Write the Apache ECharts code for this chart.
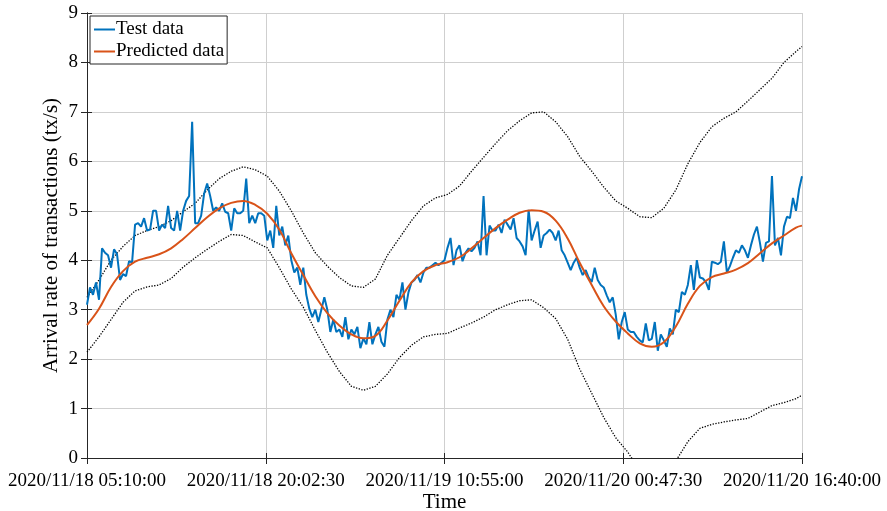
<!DOCTYPE html>
<html>
<head>
<meta charset="utf-8">
<script src="https://cdn.jsdelivr.net/npm/echarts@6/dist/echarts.min.js"></script>
<style>
  html, body { margin: 0; padding: 0; background: #fff; }
  #chart { width: 887px; height: 511px; }
</style>
</head>
<body>
<div id="chart"></div>
<script>
// Time axis: hours elapsed since 2020/11/18 05:10:00, ticks every 14 h 52 min 30 s
const xTickLabels = [
  '2020/11/18 05:10:00',
  '2020/11/18 20:02:30',
  '2020/11/19 10:55:00',
  '2020/11/20 00:47:30',
  '2020/11/20 16:40:00'
];
const spanHours = 59.5;
const tickStepHours = 14.875;
const testStepHours = 0.25; // observations every 15 minutes

// Observed arrival rate (tx/s)
const testData = [
  3.1, 3.45, 3.3, 3.55, 3.2, 4.24, 4.15, 4.1, 3.85, 4.22,
  4.12, 3.6, 3.72, 3.68, 3.98, 3.95, 4.72, 4.75, 4.68, 4.85,
  4.6, 4.62, 5.0, 5.0, 4.6, 4.72, 4.65, 5.1, 4.65, 4.6,
  5.0, 4.6, 5.0, 5.2, 5.3, 6.8, 4.75, 4.75, 4.9, 5.35,
  5.55, 5.3, 5.0, 5.07, 5.0, 5.15, 4.98, 4.95, 4.6, 5.05,
  4.95, 4.95, 5.0, 5.65, 4.75, 4.9, 4.75, 4.95, 4.95, 4.9,
  4.4, 4.6, 4.25, 5.1, 4.5, 4.68, 4.3, 4.5, 4.0, 3.75,
  3.85, 3.5, 3.85, 3.3, 3.02, 2.85, 3.0, 2.75, 3.0, 3.25,
  3.0, 2.55, 2.8, 2.55, 2.6, 2.45, 2.85, 2.4, 2.6, 2.5,
  2.65, 2.22, 2.42, 2.3, 2.75, 2.3, 2.5, 2.65, 2.35, 2.25,
  2.8, 3.0, 2.85, 3.3, 3.2, 3.55, 3.0, 3.35, 3.55, 3.6,
  3.7, 3.55, 3.75, 3.85, 3.85, 3.9, 3.95, 3.9, 3.95, 4.0,
  4.25, 4.45, 3.9, 4.2, 4.3, 3.98, 4.15, 4.24, 4.18, 4.25,
  4.38, 4.1, 5.3, 4.1, 4.7, 4.6, 4.6, 4.72, 4.55, 4.82,
  4.72, 4.62, 4.85, 4.45, 4.38, 4.28, 4.1, 5.02, 4.4, 4.6,
  4.78, 4.25, 4.5, 4.55, 4.62, 4.55, 4.4, 4.6, 4.2, 4.1,
  3.95, 3.8, 3.95, 4.05, 3.85, 3.7, 3.8, 3.65, 3.56, 3.85,
  3.6, 3.5, 3.45, 3.29, 3.15, 3.25, 2.9, 2.4, 2.75, 2.95,
  2.6, 2.55, 2.55, 2.45, 2.38, 2.34, 2.72, 2.38, 2.41, 2.75,
  2.17, 2.5, 2.38, 2.25, 2.62, 2.5, 3.0, 2.95, 3.36, 3.3,
  3.5, 3.9, 3.4, 4.0, 3.65, 3.63, 3.56, 3.4, 3.97, 3.95,
  3.92, 3.97, 4.38, 3.75, 3.88, 4.05, 4.2, 4.15, 4.3, 4.2,
  4.05, 4.3, 4.52, 4.68, 4.35, 3.97, 4.35, 4.38, 5.7, 4.3,
  4.45, 4.1, 4.68, 4.88, 4.85, 5.26, 5.0, 5.43, 5.7
];

// Hourly model output: hours 0..59 and the final 59.5
const modelHours = [
  0, 1, 2, 3, 4, 5, 6, 7, 8, 9, 10, 11, 12, 13, 14, 15, 16, 17, 18, 19,
  20, 21, 22, 23, 24, 25, 26, 27, 28, 29, 30, 31, 32, 33, 34, 35, 36, 37, 38, 39,
  40, 41, 42, 43, 44, 45, 46, 47, 48, 49, 50, 51, 52, 53, 54, 55, 56, 57, 58, 59, 59.5
];
const predicted = [
  2.69, 3.02, 3.46, 3.78, 3.97, 4.05, 4.12, 4.24, 4.43, 4.65,
  4.87, 5.05, 5.16, 5.2, 5.12, 4.94, 4.62, 4.14, 3.7, 3.27,
  2.93, 2.68, 2.5, 2.42, 2.47, 2.78, 3.18, 3.55, 3.78, 3.9,
  3.96, 4.06, 4.24, 4.45, 4.65, 4.82, 4.96, 5.01, 4.98, 4.8,
  4.44, 3.95, 3.5, 3.07, 2.76, 2.52, 2.32, 2.25, 2.34, 2.66,
  3.12, 3.48, 3.66, 3.73, 3.81, 3.94, 4.14, 4.34, 4.5, 4.66, 4.7
];
const upperBound = [
  3.25, 3.6, 4.0, 4.28, 4.5, 4.6, 4.68, 4.8, 4.98, 5.15,
  5.42, 5.65, 5.8, 5.89, 5.83, 5.7, 5.4, 5.0, 4.55, 4.15,
  3.88, 3.65, 3.48, 3.45, 3.62, 4.1, 4.45, 4.8, 5.1, 5.26,
  5.33, 5.5, 5.8, 6.08, 6.36, 6.62, 6.82, 6.98, 7.0, 6.8,
  6.5, 6.1, 5.8, 5.48, 5.2, 5.05, 4.88, 4.86, 5.05, 5.42,
  5.95, 6.38, 6.7, 6.87, 7.0, 7.22, 7.45, 7.68, 8.0, 8.22, 8.32
];
const lowerBound = [
  2.14, 2.45, 2.8, 3.15, 3.38, 3.46, 3.5, 3.63, 3.86, 4.05,
  4.22, 4.38, 4.52, 4.5, 4.37, 4.25, 3.85, 3.42, 3.05, 2.58,
  2.14, 1.75, 1.45, 1.37, 1.45, 1.7, 2.03, 2.28, 2.45, 2.5,
  2.52, 2.63, 2.73, 2.85, 3.0, 3.1, 3.18, 3.2, 3.04, 2.82,
  2.4, 1.8, 1.31, 0.82, 0.41, 0.12, -0.25, -0.4, -0.35, -0.06,
  0.33, 0.6, 0.68, 0.73, 0.77, 0.8, 0.93, 1.06, 1.12, 1.2, 1.27
];

const FONT = 'Liberation Serif';
const AXIS_COLOR = '#262626';
const GRID_COLOR = '#cfcfcf';

const testPairs = testData.map((v, i) => [i * testStepHours, v]);
const pairUp = arr => arr.map((v, i) => [modelHours[i], v]);

const chart = echarts.init(document.getElementById('chart'), null, { renderer: 'canvas' });

const boundStyle = {
  type: 'line',
  symbol: 'none',
  clip: true,
  silent: true,
  lineStyle: { color: '#000', width: 1.3, type: [1.3, 1.5] },
  z: 2
};

chart.setOption({
  animation: false,
  backgroundColor: '#fff',
  grid: { left: 87, right: 85, top: 13, bottom: 53, containLabel: false, outerBoundsMode: 'none' },
  legend: {
    data: ['Test data', 'Predicted data'],
    orient: 'vertical',
    left: 90,
    top: 16,
    padding: [4, 3, 3, 4],
    itemGap: 3,
    icon: 'rect',
    itemWidth: 21,
    itemHeight: 2,
    backgroundColor: '#fff',
    borderColor: AXIS_COLOR,
    borderWidth: 1,
    textStyle: { fontFamily: FONT, fontSize: 19, color: '#000', padding: [0, 0, 0, -4] }
  },
  xAxis: [
    {
      type: 'value',
      min: 0,
      max: spanHours,
      interval: tickStepHours,
      name: 'Time',
      nameLocation: 'middle',
      nameGap: 34,
      nameMoveOverlap: false,
      nameTextStyle: { fontFamily: FONT, fontSize: 21, color: '#000' },
      axisLine: { show: true, lineStyle: { color: AXIS_COLOR, width: 1 } },
      axisTick: { show: true, inside: false, length: 6, lineStyle: { color: AXIS_COLOR } },
      axisLabel: {
        fontFamily: FONT, fontSize: 19, color: '#000', margin: 14,
        showMinLabel: true, showMaxLabel: true,
        formatter: v => xTickLabels[Math.round(v / tickStepHours)] || ''
      },
      splitLine: { show: true, lineStyle: { color: GRID_COLOR, width: 1 } }
    },
    {
      type: 'value',
      position: 'top',
      min: 0,
      max: spanHours,
      interval: tickStepHours,
      axisLine: { show: true, lineStyle: { color: AXIS_COLOR, width: 1 } },
      axisTick: { show: true, inside: false, length: 5, lineStyle: { color: AXIS_COLOR } },
      axisLabel: { show: false },
      splitLine: { show: false }
    }
  ],
  yAxis: [
    {
      type: 'value',
      min: 0,
      max: 9,
      interval: 1,
      name: 'Arrival rate of transactions (tx/s)',
      nameLocation: 'middle',
      nameGap: 25,
      nameMoveOverlap: false,
      nameTextStyle: { fontFamily: FONT, fontSize: 21, color: '#000' },
      axisLine: { show: true, lineStyle: { color: AXIS_COLOR, width: 1 } },
      axisTick: { show: true, inside: false, length: 6, lineStyle: { color: AXIS_COLOR } },
      axisLabel: { fontFamily: FONT, fontSize: 19, color: '#000', margin: 9 },
      splitLine: { show: true, lineStyle: { color: GRID_COLOR, width: 1 } }
    },
    {
      type: 'value',
      position: 'right',
      min: 0,
      max: 9,
      interval: 1,
      axisLine: { show: true, lineStyle: { color: AXIS_COLOR, width: 1 } },
      axisTick: { show: true, inside: false, length: 5, lineStyle: { color: AXIS_COLOR } },
      axisLabel: { show: false },
      splitLine: { show: false }
    }
  ],
  series: [
    Object.assign({ name: 'Upper bound', data: pairUp(upperBound) }, boundStyle),
    Object.assign({ name: 'Lower bound', data: pairUp(lowerBound) }, boundStyle),
    {
      name: 'Test data',
      type: 'line',
      symbol: 'none',
      data: testPairs,
      lineStyle: { color: '#0072BD', width: 2 },
      itemStyle: { color: '#0072BD' },
      z: 3
    },
    {
      name: 'Predicted data',
      type: 'line',
      symbol: 'none',
      smooth: 0.4,
      data: pairUp(predicted),
      lineStyle: { color: '#D95319', width: 2 },
      itemStyle: { color: '#D95319' },
      z: 4
    }
  ]
});
</script>
</body>
</html>
